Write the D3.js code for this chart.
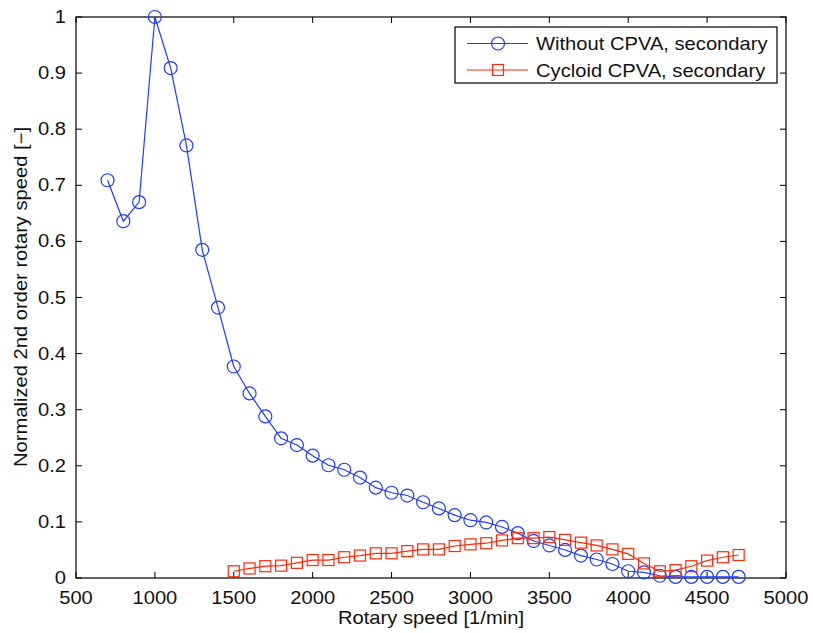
<!DOCTYPE html>
<html>
<head>
<meta charset="utf-8">
<script src="https://cdn.jsdelivr.net/npm/d3@7"></script>
<style>
  html, body { margin: 0; padding: 0; background: #fff; }
  svg { display: block; font-family: "Liberation Sans", Arial, Helvetica, sans-serif; }
</style>
</head>
<body>
<svg id="chart" width="813" height="633"></svg>
<script>
// Rotary speed samples [1/min]
const speedsWithout = [700, 800, 900, 1000, 1100, 1200, 1300, 1400, 1500, 1600, 1700, 1800, 1900,
  2000, 2100, 2200, 2300, 2400, 2500, 2600, 2700, 2800, 2900, 3000, 3100, 3200, 3300, 3400, 3500,
  3600, 3700, 3800, 3900, 4000, 4100, 4200, 4300, 4400, 4500, 4600, 4700];
const valuesWithout = [0.709, 0.636, 0.670, 1.000, 0.909, 0.771, 0.585, 0.482, 0.377, 0.329, 0.288,
  0.249, 0.237, 0.218, 0.201, 0.193, 0.179, 0.161, 0.152, 0.147, 0.135, 0.124, 0.112, 0.103, 0.099,
  0.091, 0.080, 0.066, 0.058, 0.050, 0.040, 0.033, 0.025, 0.012, 0.010, 0.004, 0.002, 0.002, 0.002,
  0.002, 0.002];

const speedsCycloid = [1500, 1600, 1700, 1800, 1900, 2000, 2100, 2200, 2300, 2400, 2500, 2600, 2700,
  2800, 2900, 3000, 3100, 3200, 3300, 3400, 3500, 3600, 3700, 3800, 3900, 4000, 4100, 4200, 4300,
  4400, 4500, 4600, 4700];
const valuesCycloid = [0.012, 0.017, 0.021, 0.022, 0.027, 0.032, 0.032, 0.037, 0.040, 0.044, 0.044,
  0.048, 0.051, 0.051, 0.057, 0.060, 0.062, 0.067, 0.071, 0.071, 0.073, 0.068, 0.063, 0.058, 0.051,
  0.043, 0.026, 0.012, 0.014, 0.021, 0.031, 0.037, 0.041];

const xTicks = [500, 1000, 1500, 2000, 2500, 3000, 3500, 4000, 4500, 5000];
const yTicks = [0, 0.1, 0.2, 0.3, 0.4, 0.5, 0.6, 0.7, 0.8, 0.9, 1];

const seriesNames = ["Without CPVA, secondary", "Cycloid CPVA, secondary"];
const seriesColors = ["#1f3cff", "#ff2a0a"];

const svg = d3.select("#chart");
const L = 76, R = 786, T = 17, B = 578;

const x = d3.scaleLinear().domain([500, 5000]).range([L, R]);
const y = d3.scaleLinear().domain([0, 1]).range([B, T]);

const tickLen = 6;
const fs = 18;
const stretch = 1.12; // text is set slightly wide

// text placed at (px, py), widened horizontally
function label(parent, px, py, str, anchor, rotate) {
  const rot = rotate ? ` rotate(${rotate})` : "";
  return parent.append("text")
    .attr("transform", `translate(${px},${py})${rot} scale(${stretch},1)`)
    .attr("text-anchor", anchor).attr("font-size", fs).attr("fill", "#111")
    .text(str);
}

// axes with inward ticks on all four sides
const axisG = svg.append("g").attr("stroke", "#000").attr("fill", "none");
xTicks.forEach(v => {
  axisG.append("line").attr("x1", x(v)).attr("x2", x(v)).attr("y1", B).attr("y2", B - tickLen);
  axisG.append("line").attr("x1", x(v)).attr("x2", x(v)).attr("y1", T).attr("y2", T + tickLen);
});
yTicks.forEach(v => {
  axisG.append("line").attr("x1", L).attr("x2", L + tickLen).attr("y1", y(v)).attr("y2", y(v));
  axisG.append("line").attr("x1", R).attr("x2", R - tickLen).attr("y1", y(v)).attr("y2", y(v));
});
svg.append("rect").attr("x", L).attr("y", T).attr("width", R - L).attr("height", B - T)
  .attr("fill", "none").attr("stroke", "#000").attr("stroke-width", 1.2);

const xLab = svg.append("g");
xTicks.forEach(v => label(xLab, x(v), B + 26, String(v), "middle"));

const yLab = svg.append("g");
yTicks.forEach(v => label(yLab, L - 10, y(v) + 6, d3.format("~g")(v), "end"));

label(svg, (L + R) / 2, 624, "Rotary speed [1/min]", "middle");
label(svg, 27, 297, "Normalized 2nd order rotary speed [\u2212]", "middle", -90);

const line = d3.line().x(d => x(d[0])).y(d => y(d[1]));

const dataWithout = speedsWithout.map((s, i) => [s, valuesWithout[i]]);
const dataCycloid = speedsCycloid.map((s, i) => [s, valuesCycloid[i]]);

// series 1: circles
svg.append("path").datum(dataWithout).attr("d", line)
  .attr("fill", "none").attr("stroke", seriesColors[0]).attr("stroke-width", 1.2);
svg.append("g").selectAll("circle").data(dataWithout).join("circle")
  .attr("cx", d => x(d[0])).attr("cy", d => y(d[1])).attr("r", 6.5)
  .attr("fill", "none").attr("stroke", seriesColors[0]).attr("stroke-width", 1.2);

// series 2: squares
svg.append("path").datum(dataCycloid).attr("d", line)
  .attr("fill", "none").attr("stroke", seriesColors[1]).attr("stroke-width", 1.2);
svg.append("g").selectAll("rect").data(dataCycloid).join("rect")
  .attr("x", d => x(d[0]) - 5.5).attr("y", d => y(d[1]) - 5.5)
  .attr("width", 11).attr("height", 11)
  .attr("fill", "none").attr("stroke", seriesColors[1]).attr("stroke-width", 1.2);

// legend
const lg = svg.append("g");
lg.append("rect").attr("x", 455).attr("y", 27).attr("width", 322).attr("height", 56)
  .attr("fill", "#fff").attr("stroke", "#000").attr("stroke-width", 1.2);
seriesNames.forEach((name, i) => {
  const cy = 43.5 + i * 26.5;
  lg.append("line").attr("x1", 467).attr("x2", 528).attr("y1", cy).attr("y2", cy)
    .attr("stroke", seriesColors[i]).attr("stroke-width", 1.2);
  if (i === 0) {
    lg.append("circle").attr("cx", 498).attr("cy", cy).attr("r", 6.5)
      .attr("fill", "none").attr("stroke", seriesColors[i]).attr("stroke-width", 1.2);
  } else {
    lg.append("rect").attr("x", 492.5).attr("y", cy - 5.5).attr("width", 11).attr("height", 11)
      .attr("fill", "none").attr("stroke", seriesColors[i]).attr("stroke-width", 1.2);
  }
  label(lg, 536, cy + 6.5, name, "start");
});
</script>
</body>
</html>
